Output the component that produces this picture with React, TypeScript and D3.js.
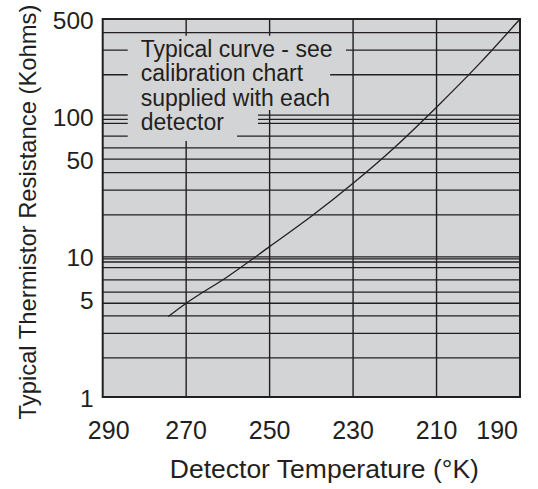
import React from 'react';
import * as d3 from 'd3';

// ---- data ----
const temperatureTicks = [290, 270, 250, 230, 210, 190];
const resistanceTickLabels = [1, 5, 10, 50, 100, 500];
const gridTemperature = [270, 250, 230, 210];
const gridResistance = [400, 300, 200, 103, 96, 90, 73, 60, 50, 40, 30, 20, 10, 9.7, 9.2, 8.4, 6.85, 5.6, 4.67, 3.8, 2.85, 1.9];
const curveTemperature = [274.3, 270, 260, 250, 240, 230, 220, 210, 200, 190];
const curveResistance = [3.75, 4.67, 7.26, 11.85, 19.5, 33.6, 60.8, 117.3, 235, 500];
const noteLines = ['Typical curve - see', 'calibration chart', 'supplied with each', 'detector'];
// outline of the note's background patch, in data units (temperature, resistance)
const noteMaskTemperature = [284, 231.7, 231.7, 235.5, 235.5, 252.8, 252.8, 257.8, 257.8, 284];
const noteMaskResistance = [379, 379, 255, 255, 112, 112, 83.5, 83.5, 67.4, 67.4];

const W = 538;
const H = 489;
const M = { left: 102.7, right: 18, top: 19, bottom: 92 };
const FONT = '"Liberation Sans", Arial, Helvetica, sans-serif';
const INK = '#231f20';
const BG = '#d3d4d6';

export default function App() {
  const x = d3.scaleLinear().domain([290, 190]).range([M.left, W - M.right]);
  const y = d3.scaleLog().domain([1, 500]).range([H - M.bottom, M.top]);
  const [x0, x1] = x.range();
  const [y0, y1] = y.range();

  const pts = curveTemperature.map((t, i) => [x(t), y(curveResistance[i])] as [number, number]);
  const curvePath = d3.line().curve(d3.curveMonotoneX)(pts) || '';

  const maskPts = noteMaskTemperature.map((t, i) => [x(t), y(noteMaskResistance[i])] as [number, number]);
  const maskPath = d3.line()(maskPts) + 'Z';

  const noteX = x(284) + 13;
  const noteTop = 56.7;
  const noteStep = 24.4;

  return (
    <svg width={W} height={H} style={{ position: 'absolute', left: 0, top: 0, background: '#fff' }}
      fontFamily={FONT}>
      <rect x={x0} y={y1} width={x1 - x0} height={y0 - y1} fill={BG} />
      {gridResistance.map((v, i) => (
        <line key={'h' + i} x1={x0} x2={x1} y1={y(v)} y2={y(v)} stroke={INK} strokeWidth={1.3} />
      ))}
      {gridTemperature.map((t, i) => (
        <line key={'v' + i} x1={x(t)} x2={x(t)} y1={y1} y2={y0} stroke={INK} strokeWidth={1.4} />
      ))}
      <path d={maskPath} fill={BG} stroke="none" />
      <path d={curvePath} fill="none" stroke={INK} strokeWidth={1.3} />
      <rect x={x0} y={y1} width={x1 - x0} height={y0 - y1} fill="none" stroke={INK} strokeWidth={2} />
      {noteLines.map((s, i) => (
        <text key={'n' + i} x={noteX} y={noteTop + i * noteStep} fontSize={23} fill={INK}>{s}</text>
      ))}
      {resistanceTickLabels.map((v, i) => (
        <text key={'yt' + i} x={x0 - 9} y={y(v) + 1} fontSize={24.5} fill={INK}
          textAnchor="end" dominantBaseline="central">{v}</text>
      ))}
      {temperatureTicks.map((t, i) => {
        const last = i === temperatureTicks.length - 1;
        const first = i === 0;
        return (
          <text key={'xt' + i} x={x(t) + (first ? 6 : 0) - (last ? 2 : 0)} y={y0 + 42} fontSize={25} fill={INK}
            textAnchor={last ? 'end' : 'middle'}>{t}</text>
        );
      })}
      <text x={(x0 + x1) / 2 + 13} y={y0 + 81} fontSize={26.5} fill={INK} textAnchor="middle">
        Detector Temperature (°K)
      </text>
      <text transform={`translate(27,${(y0 + y1) / 2 + 4}) rotate(-90)`} fontSize={23.8} fill={INK}
        textAnchor="middle" dominantBaseline="central">
        Typical Thermistor Resistance (Kohms)
      </text>
    </svg>
  );
}
